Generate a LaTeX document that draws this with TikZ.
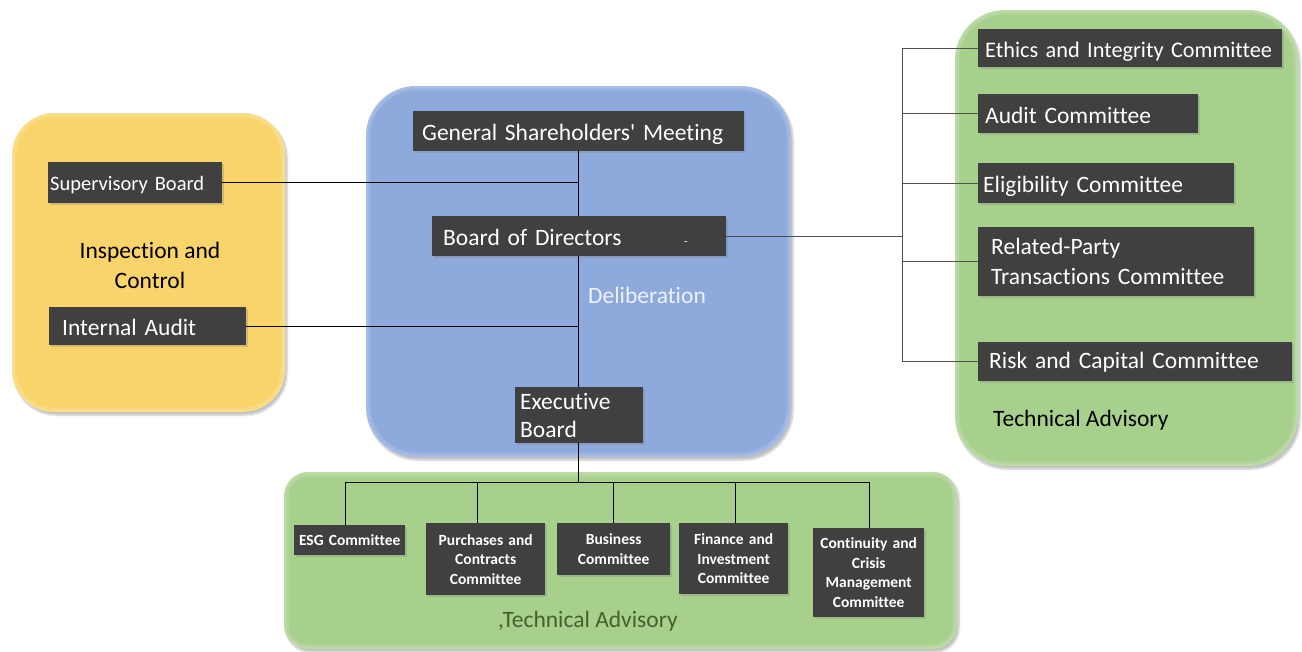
\documentclass[tikz,border=0pt]{standalone}
\usepackage{fontspec}
\setmainfont{Carlito}[Ligatures={NoCommon}]
\usetikzlibrary{shadows,shadows.blur}

\definecolor{panelYellow}{HTML}{F9D46A}
\definecolor{panelBlue}{HTML}{8EA9DB}
\definecolor{panelGreen}{HTML}{A8D08D}
\definecolor{boxDark}{HTML}{404040}
\definecolor{lineGray}{HTML}{505050}
\definecolor{deliberText}{HTML}{EDF2FA}
\definecolor{advisoryText}{HTML}{44602F}

\tikzset{
  panel/.style={blur shadow={shadow xshift=2pt, shadow yshift=-3pt,
      shadow blur steps=6, shadow opacity=25}},
  darkbox/.style={fill=boxDark, text=white, anchor=north west,
      inner ysep=0pt, align=left,
      drop shadow={shadow xshift=2pt, shadow yshift=-2pt, opacity=0.3}},
  oneline/.style={text height=19pt, text depth=0pt},
  bigtext/.style={font=\fontsize{23.5}{30}\selectfont},
  smalltext/.style={font=\bfseries\fontsize{15.5}{19.5}\selectfont},
  combox/.style={darkbox, smalltext, align=center, inner xsep=1pt},
  conn/.style={draw=black, line width=0.9pt},
  connR/.style={draw=lineGray, line width=0.9pt},
}

% rounded panel with a soft shadow and a light bevelled rim
\newcommand\drawpanel[4]{%
  \path[panel, fill=#1, rounded corners=#2] #3 rectangle #4;
  \begin{scope}
    \clip[rounded corners=#2] #3 rectangle #4;
    \draw[white, opacity=0.14, line width=9pt, rounded corners=#2] #3 rectangle #4;
    \draw[white, opacity=0.12, line width=4pt, rounded corners=#2] #3 rectangle #4;
  \end{scope}}

\begin{document}
\begin{tikzpicture}[x=1pt, y=-1pt]
  \useasboundingbox (0,0) rectangle (1302,651);

  % background panels
  \drawpanel{panelYellow}{42pt}{(12,113)}{(285,412)}
  \drawpanel{panelBlue}{50pt}{(366,86)}{(791,457)}
  \drawpanel{panelGreen}{50pt}{(955,10)}{(1298,466)}
  \drawpanel{panelGreen}{24pt}{(284,472)}{(957,649)}

  % panel captions
  \node[align=center, font=\fontsize{23.5}{30}\selectfont] (inspect) at (150,265) {Inspection and\\Control};
  \node[bigtext, text=deliberText] (delib) at (647,295) {Deliberation};
  \node[bigtext, anchor=west, inner xsep=0pt] (advR) at (993,420) {Technical Advisory};
  \node[bigtext, text=advisoryText] (advB) at (588,621) {,Technical Advisory};

  % governance spine
  \node[darkbox, bigtext, oneline, minimum width=331pt, minimum height=40pt,
        inner xsep=9pt, text width=313pt] (gsm) at (413,111) {\mbox{General Shareholders\textquotesingle\ Meeting}};
  \node[darkbox, bigtext, oneline, minimum width=294pt, minimum height=40pt,
        inner xsep=11pt, text width=272pt] (bod) at (432,216) {\mbox{Board of Directors}};
  \node[text=white, font=\fontsize{12}{12}\selectfont, inner sep=0pt] (bodmark) at (686,244) {-};
  \node[darkbox, minimum width=128pt, minimum height=56pt,
        inner xsep=5pt, text width=118pt, font=\fontsize{23.5}{28}\selectfont] (exec) at (515,387) {Executive\\Board};

  % inspection and control
  \node[darkbox, text height=16pt, text depth=0pt, font=\fontsize{20.5}{22}\selectfont,
        minimum width=174pt, minimum height=41pt,
        inner xsep=2pt, text width=170pt] (sup) at (48,162) {\mbox{Supervisory Board}};
  \node[darkbox, bigtext, oneline, minimum width=197pt, minimum height=38pt,
        inner xsep=13pt, text width=171pt] (audit) at (49,307) {\mbox{Internal Audit}};

  % board committees
  \node[darkbox, oneline, font=\fontsize{22.3}{30}\selectfont, minimum width=304pt, minimum height=38pt,
        inner xsep=7pt, text width=290pt] (ethics) at (978,29) {\mbox{Ethics and Integrity Committee}};
  \node[darkbox, bigtext, oneline, minimum width=220pt, minimum height=39pt,
        inner xsep=7pt, text width=206pt] (auditc) at (978,94) {\mbox{Audit Committee}};
  \node[darkbox, bigtext, oneline, minimum width=256pt, minimum height=40pt,
        inner xsep=5pt, text width=246pt] (elig) at (978,163) {\mbox{Eligibility Committee}};
  \node[darkbox, bigtext, minimum width=276pt, minimum height=69pt,
        inner xsep=13pt, text width=250pt] (related) at (978,227) {Related-Party\\Transactions Committee};
  \node[darkbox, bigtext, text height=13pt, text depth=0pt, minimum width=314pt, minimum height=39pt,
        inner xsep=11pt, text width=292pt] (risk) at (978,342) {\mbox{Risk and Capital Committee}};

  % executive committees
  \node[combox, minimum width=111pt, minimum height=30pt, text width=109pt] (esg) at (294,525) {ESG Committee};
  \node[combox, minimum width=119pt, minimum height=72pt, text width=117pt] (purch) at (426,523) {Purchases and\\Contracts\\Committee};
  \node[combox, minimum width=113pt, minimum height=52pt, text width=111pt] (biz) at (557,523) {Business\\Committee};
  \node[combox, minimum width=109pt, minimum height=71pt, text width=107pt] (fin) at (679,523) {Finance and\\Investment\\Committee};
  \node[combox, minimum width=111pt, minimum height=89pt, text width=109pt] (cont) at (813,528) {Continuity and\\Crisis\\Management\\Committee};

  % connector junctions
  \coordinate (spine) at (578,0);
  \coordinate (busR) at (902,239);
  \coordinate (busB) at (578,482);
  \coordinate (d1) at (345,482);
  \coordinate (d2) at (477,482);
  \coordinate (d3) at (613,482);
  \coordinate (d4) at (735,482);
  \coordinate (d5) at (869,482);

  % spine connectors
  \draw[conn] (gsm.south -| spine) -- (bod.north -| spine);
  \draw[conn] (bod.south -| spine) -- (exec.north -| spine);
  \draw[conn] (exec.south -| spine) -- (busB);
  \draw[conn] (sup.east) -- (sup.east -| spine);
  \draw[conn] (audit.east) -- (audit.east -| spine);

  % board committee bus
  \draw[connR] (bod.east) -- (bod.east -| busR);
  \draw[connR] (ethics.west -| busR) -- (risk.west -| busR);
  \draw[connR] (ethics.west -| busR) -- (ethics.west);
  \draw[connR] (auditc.west -| busR) -- (auditc.west);
  \draw[connR] (elig.west -| busR) -- (elig.west);
  \draw[connR] (related.west -| busR) -- (related.west);
  \draw[connR] (risk.west -| busR) -- (risk.west);

  % executive committee bus
  \draw[conn] (d1) -- (d5);
  \draw[conn] (d1) -- (d1 |- esg.north);
  \draw[conn] (d2) -- (d2 |- purch.north);
  \draw[conn] (d3) -- (d3 |- biz.north);
  \draw[conn] (d4) -- (d4 |- fin.north);
  \draw[conn] (d5) -- (d5 |- cont.north);
\end{tikzpicture}
\end{document}
